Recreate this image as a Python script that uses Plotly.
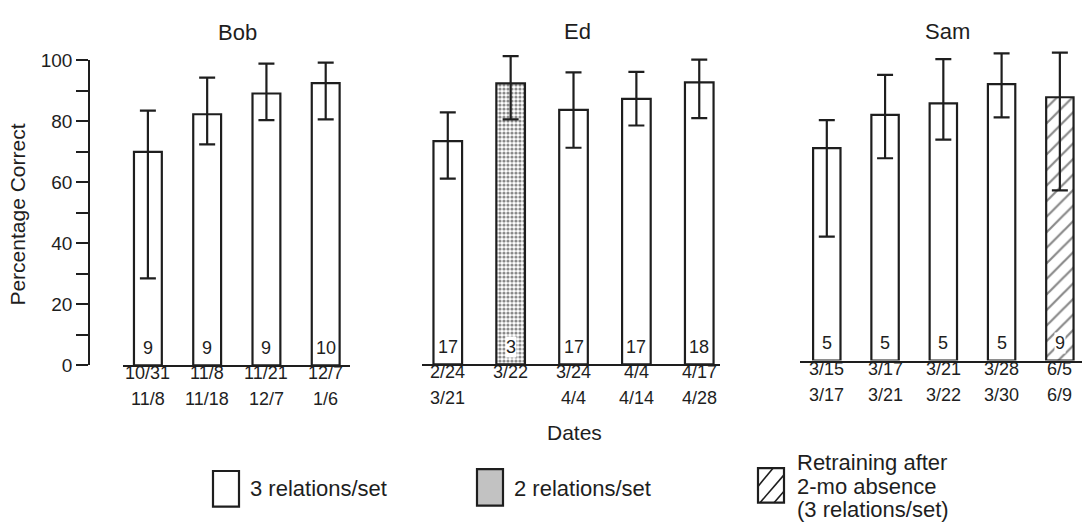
import plotly.graph_objects as go

W, H = 1082, 531

# ---------------- data ----------------
panels = ["Bob", "Ed", "Sam"]

bob_start = ["10/31", "11/8", "11/21", "12/7"]
bob_end = ["11/8", "11/18", "12/7", "1/6"]
bob_mean = [70, 82.3, 89.1, 92.5]
bob_hi = [83.5, 94.3, 98.9, 99.2]
bob_lo = [28.5, 72.4, 80.4, 80.6]
bob_n = [9, 9, 9, 10]

ed_start = ["2/24", "3/22", "3/24", "4/4", "4/17"]
ed_end = ["3/21", "", "4/4", "4/14", "4/28"]
ed_mean = [73.2, 92.1, 83.4, 87.0, 92.4]
ed_hi = [82.6, 101.0, 95.7, 95.9, 99.9]
ed_lo = [60.9, 80.3, 71.0, 78.3, 80.7]
ed_n = [17, 3, 17, 17, 18]
ed_cond = ["3", "2", "3", "3", "3"]

sam_start = ["3/15", "3/17", "3/21", "3/28", "6/5"]
sam_end = ["3/17", "3/21", "3/22", "3/30", "6/9"]
sam_mean = [69.6, 80.5, 84.3, 90.6, 86.3]
sam_hi = [78.8, 93.6, 98.8, 100.7, 100.9]
sam_lo = [40.6, 66.3, 72.4, 79.7, 55.8]
sam_n = [5, 5, 5, 5, 9]
sam_cond = ["3", "3", "3", "3", "R"]

legend_labels = ["3 relations/set", "2 relations/set",
                 ["Retraining after", "2-mo absence", "(3 relations/set)"]]

# ---------------- styling helpers ----------------
INK = "#1e1e1e"
FONT = "Liberation Sans, Arial, Helvetica, sans-serif"


def px_x(p):
    return p / W


def px_y(p):
    return 1 - p / H


PER_UNIT = 317.7 / 100.0  # px per percentage point
YMAX = 104


def ydomain(base_px):
    return [px_y(base_px), px_y(base_px - YMAX * PER_UNIT)]


shape_map = {"3": "", "2": ".", "R": "/"}
size_map = {"3": 8, "2": 4, "R": 11}
sol_map = {"3": 0.2, "2": 0.5, "R": 0.2}

fig = go.Figure()

panel_data = [
    dict(name="Bob", start=bob_start, end=bob_end, mean=bob_mean, hi=bob_hi, lo=bob_lo,
         n=bob_n, cond=["3"] * 4, xa="x", ya="y",
         xdom=[123, 350], xr=[-0.42, 3.41], base=370, width=0.47,
         title_xy=(237, 23), end_y=405),
    dict(name="Ed", start=ed_start, end=ed_end, mean=ed_mean, hi=ed_hi, lo=ed_lo,
         n=ed_n, cond=ed_cond, xa="x2", ya="y2",
         xdom=[422, 720], xr=[-0.41, 4.33], base=369, width=0.455,
         title_xy=(577, 22), end_y=404),
    dict(name="Sam", start=sam_start, end=sam_end, mean=sam_mean, hi=sam_hi, lo=sam_lo,
         n=sam_n, cond=sam_cond, xa="x3", ya="y3",
         xdom=[800, 1082], xr=[-0.46, 4.38], base=365, width=0.47,
         title_xy=(947, 22), end_y=401),
]

annotations = []
for i, p in enumerate(panel_data):
    plus = [h - m for h, m in zip(p["hi"], p["mean"])]
    minus = [m - l for m, l in zip(p["mean"], p["lo"])]
    fig.add_trace(go.Bar(
        x=p["start"], y=p["mean"], xaxis=p["xa"], yaxis=p["ya"],
        width=p["width"],
        marker=dict(
            color="white",
            line=dict(color=INK, width=2.2),
            pattern=dict(
                shape=[shape_map[c] for c in p["cond"]],
                size=[size_map[c] for c in p["cond"]],
                solidity=[sol_map[c] for c in p["cond"]],
                fgcolor="#111111", bgcolor="white", fillmode="overlay",
            ),
        ),
        error_y=dict(type="data", symmetric=False, array=plus, arrayminus=minus,
                     color=INK, thickness=2.2, width=8),
        showlegend=False, hoverinfo="skip",
    ))
    # sample counts inside bars
    for s, n in zip(p["start"], p["n"]):
        annotations.append(dict(
            x=s, y=5.8, xref=p["xa"], yref=p["ya"], text=str(n), showarrow=False,
            font=dict(size=18, color=INK, family=FONT), bgcolor="white", borderpad=0,
            xanchor="center", yanchor="middle"))
    # both lines of date labels
    for s, e in zip(p["start"], p["end"]):
        annotations.append(dict(
            x=s, y=px_y(p["end_y"] - 27), xref=p["xa"], yref="paper", text=s,
            showarrow=False, font=dict(size=18, color=INK, family=FONT),
            xanchor="center", yanchor="middle"))
        if e:
            annotations.append(dict(
                x=s, y=px_y(p["end_y"]), xref=p["xa"], yref="paper", text=e,
                showarrow=False, font=dict(size=18, color=INK, family=FONT),
                xanchor="center", yanchor="middle"))
    # panel title
    annotations.append(dict(
        x=px_x(p["title_xy"][0]), y=px_y(p["title_xy"][1]), xref="paper", yref="paper",
        text=p["name"], showarrow=False, font=dict(size=22, color=INK, family=FONT),
        xanchor="center", yanchor="middle"))

# empty trace for the stand-alone y axis (Bob's percentage scale)
fig.add_trace(go.Scatter(x=[None], y=[None], xaxis="x4", yaxis="y4",
                         showlegend=False, hoverinfo="skip"))

layout = dict(
    width=W, height=H, margin=dict(l=0, r=0, t=0, b=0),
    paper_bgcolor="white", plot_bgcolor="rgba(0,0,0,0)",
    font=dict(family=FONT, color=INK), showlegend=False,
)

for i, p in enumerate(panel_data):
    sfx = "" if i == 0 else str(i + 1)
    layout["xaxis" + sfx] = dict(
        domain=[px_x(p["xdom"][0]), px_x(p["xdom"][1])], range=p["xr"],
        type="category", anchor=p["ya"], showline=True, linecolor=INK, linewidth=2.2,
        ticks="", showgrid=False, zeroline=False, fixedrange=True, showticklabels=False,
    )
    layout["yaxis" + sfx] = dict(
        domain=ydomain(p["base"]), range=[0, YMAX], anchor=p["xa"], visible=False,
        fixedrange=True,
    )

layout["xaxis4"] = dict(domain=[px_x(89), px_x(123)], visible=False, anchor="y4")
layout["yaxis4"] = dict(
    domain=[px_y(370), px_y(370 - 100 * PER_UNIT)], range=[0, 100],
    anchor="free", position=px_x(89.3), side="left",
    showline=True, linecolor=INK, linewidth=2.2, showgrid=False, zeroline=False,
    ticks="outside", ticklen=12, tickwidth=2.2, tickcolor=INK, dtick=20, tick0=0,
    minor=dict(dtick=10, ticks="outside", ticklen=12, tickwidth=2.2, tickcolor=INK),
    tickfont=dict(size=19, color=INK, family=FONT),
)

# axis titles
annotations.append(dict(x=px_x(18), y=px_y(213), xref="paper", yref="paper",
                        text="Percentage Correct", textangle=-90, showarrow=False,
                        xanchor="center", yanchor="middle",
                        font=dict(size=21, color=INK, family=FONT)))
annotations.append(dict(x=px_x(574), y=px_y(440), xref="paper", yref="paper",
                        text="Dates", showarrow=False, xanchor="center", yanchor="middle",
                        font=dict(size=21, color=INK, family=FONT)))

# legend texts
annotations.append(dict(x=px_x(248), y=px_y(498), xref="paper", yref="paper",
                        text=legend_labels[0], showarrow=False, xanchor="left",
                        yanchor="middle", font=dict(size=22, color=INK, family=FONT)))
annotations.append(dict(x=px_x(512), y=px_y(498), xref="paper", yref="paper",
                        text=legend_labels[1], showarrow=False, xanchor="left",
                        yanchor="middle", font=dict(size=22, color=INK, family=FONT)))
for k, line in enumerate(legend_labels[2]):
    annotations.append(dict(x=px_x(795), y=px_y(471.5 + 24.3 * k), xref="paper", yref="paper",
                            text=line, showarrow=False, xanchor="left", yanchor="middle",
                            font=dict(size=22, color=INK, family=FONT)))

# legend keys (swatches)
shapes = []


def rect(x0, y0, x1, y1, fill="white"):
    return dict(type="rect", xref="paper", yref="paper",
                x0=px_x(x0), x1=px_x(x1), y0=px_y(y1), y1=px_y(y0),
                line=dict(color=INK, width=2.2), fillcolor=fill, layer="above")


shapes.append(rect(213, 480, 239, 517))
shapes.append(rect(477, 478, 503, 516, fill="#c2c2c2"))
shapes.append(rect(758, 477, 784, 513))


def seg(x0, y0, x1, y1):
    return dict(type="line", xref="paper", yref="paper",
                x0=px_x(x0), y0=px_y(y0), x1=px_x(x1), y1=px_y(y1),
                line=dict(color=INK, width=1.6), layer="above")


shapes.append(seg(758, 496, 773, 477))
shapes.append(seg(760, 513, 784, 484))
shapes.append(seg(774, 513, 784, 501))

layout["annotations"] = annotations
layout["shapes"] = shapes
fig.update_layout(**layout)

fig.write_html(
    "out.html",
    config={"displayModeBar": False},
    post_script="document.body.style.margin='0px';document.body.style.overflow='hidden';",
)
